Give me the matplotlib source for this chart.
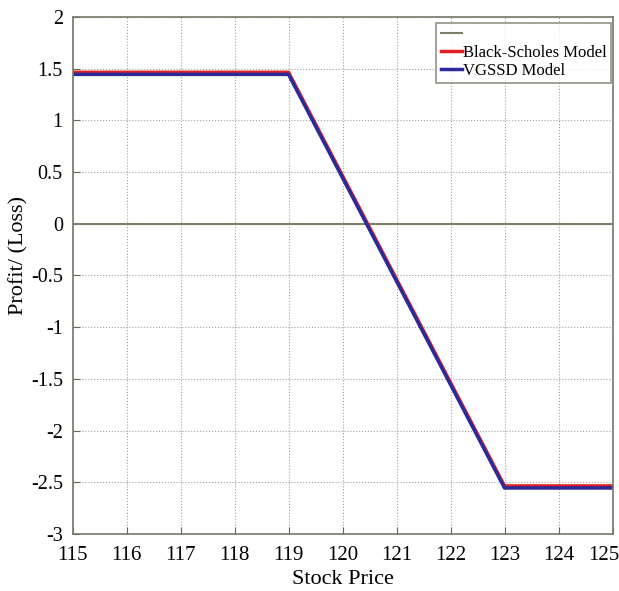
import matplotlib
matplotlib.use("Agg")
import matplotlib.pyplot as plt
import matplotlib.transforms as mtrans

plt.rcParams['font.family'] = ['Liberation Serif', 'DejaVu Serif']

stock_x = [115, 119, 123, 125]
bs_profit = [1.465, 1.465, -2.535, -2.535]
vg_profit = [1.445, 1.445, -2.555, -2.555]
zero_x = [115, 125]
zero_y = [0, 0]
xticks = list(range(115, 126))
xtick_labels = [str(v) for v in xticks]
yticks = [-3, -2.5, -2, -1.5, -1, -0.5, 0, 0.5, 1, 1.5, 2]
ytick_labels = ['-3', '-2.5', '-2', '-1.5', '-1', '-0.5', '0', '0.5', '1', '1.5', '2']

fig = plt.figure(figsize=(6.19, 5.91), dpi=100)
ax = fig.add_axes([72.5/619, 1 - 534/591, 540/619, 517/591])

ax.plot(zero_x, zero_y, color='#7f7f68', lw=1.5, label=' ')
ax.plot(stock_x, bs_profit, color='#e02020', lw=2.5, label='Black-Scholes Model')
ax.plot(stock_x, vg_profit, color='#2a2a9a', lw=2.5, label='VGSSD Model')

ax.set_xlim(115, 125)
ax.set_ylim(-3, 2)
ax.set_xticks(xticks)
ax.set_xticklabels(xtick_labels)
ax.set_yticks(yticks)
ax.set_yticklabels(ytick_labels)
ax.grid(True, linestyle=':', color='#a0a0a0', lw=0.8)
ax.tick_params(axis='both', direction='in', labelsize=15, length=5, color='#666655')
ax.tick_params(axis='y', labelsize=14.5, pad=7)
ax.tick_params(axis='x', pad=9)
for s in ax.spines.values():
    s.set_color('#77776a')
    s.set_linewidth(1.2)

last = ax.get_xticklabels()[-1]
last.set_horizontalalignment('right')
last.set_transform(last.get_transform() + mtrans.ScaledTranslation(7/100, 0, fig.dpi_scale_trans))

ax.set_xlabel('Stock Price', fontsize=16, labelpad=3)
ax.set_ylabel('Profit/ (Loss)', fontsize=16)
ax.yaxis.set_label_coords(-0.082, 0.538)

leg = ax.legend(loc='upper right', bbox_to_anchor=(611/619, 1 - 23/591),
                bbox_transform=fig.transFigure, borderaxespad=0,
                fontsize=12, frameon=True, fancybox=False,
                edgecolor='#77776a', handlelength=1.3, handletextpad=0.05,
                borderpad=0.25, labelspacing=0.1)
leg.get_frame().set_linewidth(1.2)

fig.savefig('out.png', dpi=100)
